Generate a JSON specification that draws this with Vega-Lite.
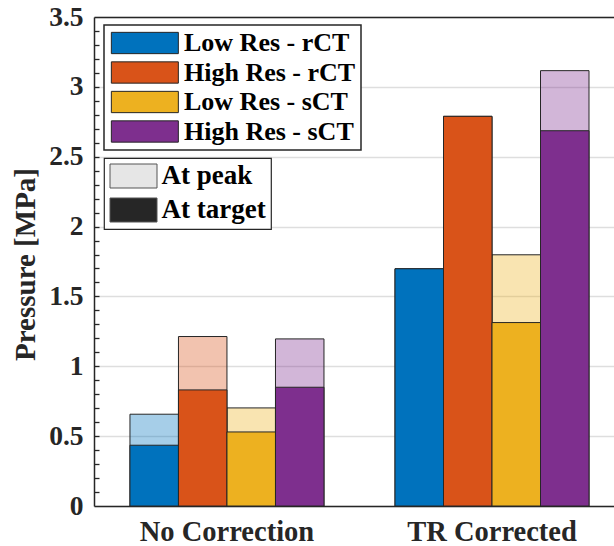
{
  "$schema": "https://vega.github.io/schema/vega-lite/v6.json",
  "width": 520,
  "height": 489,
  "autosize": {"type": "none"},
  "padding": {"left": 94, "top": 17, "right": 0, "bottom": 40},
  "background": "white",
  "config": {"view": {"stroke": null}, "font": "Liberation Serif"},
  "data": {
    "values": [
      {"group": "No Correction", "series": "Low Res - rCT", "measure": "At peak", "value": 0.657},
      {"group": "No Correction", "series": "High Res - rCT", "measure": "At peak", "value": 1.213},
      {"group": "No Correction", "series": "Low Res - sCT", "measure": "At peak", "value": 0.702},
      {"group": "No Correction", "series": "High Res - sCT", "measure": "At peak", "value": 1.196},
      {"group": "TR Corrected", "series": "Low Res - rCT", "measure": "At peak", "value": 1.698},
      {"group": "TR Corrected", "series": "High Res - rCT", "measure": "At peak", "value": 2.789},
      {"group": "TR Corrected", "series": "Low Res - sCT", "measure": "At peak", "value": 1.798},
      {"group": "TR Corrected", "series": "High Res - sCT", "measure": "At peak", "value": 3.116},
      {"group": "No Correction", "series": "Low Res - rCT", "measure": "At target", "value": 0.435},
      {"group": "No Correction", "series": "High Res - rCT", "measure": "At target", "value": 0.831},
      {"group": "No Correction", "series": "Low Res - sCT", "measure": "At target", "value": 0.53},
      {"group": "No Correction", "series": "High Res - sCT", "measure": "At target", "value": 0.85},
      {"group": "TR Corrected", "series": "Low Res - rCT", "measure": "At target", "value": 1.698},
      {"group": "TR Corrected", "series": "High Res - rCT", "measure": "At target", "value": 2.789},
      {"group": "TR Corrected", "series": "Low Res - sCT", "measure": "At target", "value": 1.313},
      {"group": "TR Corrected", "series": "High Res - sCT", "measure": "At target", "value": 2.686}
    ]
  },
  "resolve": {"scale": {"color": "independent"}, "axis": {"x": "independent", "y": "independent"}},
  "layer": [
    {
      "mark": {"type": "bar", "stroke": "#262626", "strokeWidth": 1},
      "encoding": {
        "x": {
          "field": "group", "type": "nominal", "sort": ["No Correction", "TR Corrected"],
          "scale": {"paddingInner": 0.268, "paddingOuter": 0.115, "align": 0.59},
          "axis": {
            "orient": "bottom", "title": null, "labelAngle": 0, "labelFont": "Liberation Serif", "labelFontWeight": "bold",
            "labelFontSize": 28.5, "labelColor": "#262626", "ticks": false, "domainColor": "#262626",
            "domainWidth": 1.5, "labelPadding": 34, "labelBaseline": "alphabetic", "grid": false
          }
        },
        "xOffset": {
          "field": "series", "type": "nominal",
          "sort": ["Low Res - rCT", "High Res - rCT", "Low Res - sCT", "High Res - sCT"],
          "scale": {"paddingInner": 0, "paddingOuter": 0}
        },
        "y": {
          "field": "value", "type": "quantitative", "stack": null,
          "scale": {"domain": [0, 3.5], "nice": false},
          "axis": {
            "orient": "left",
            "title": "Pressure [MPa]",
            "values": [0, 0.5, 1, 1.5, 2, 2.5, 3, 3.5],
            "labelExpr": "'' + (round(datum.value*10)/10)",
            "labelOverlap": false,
            "labelFont": "Liberation Serif", "labelFontWeight": "bold", "labelFontSize": 27.5, "labelColor": "#262626",
            "labelPadding": 11, "ticks": false,
            "domainColor": "#262626", "domainWidth": 1.5,
            "grid": true, "gridColor": "#dedede", "gridWidth": 1.5,
            "titleFont": "Liberation Serif", "titleFontSize": 29, "titleFontWeight": "bold", "titleColor": "#262626",
            "titleX": -60, "titleY": 247, "titleBaseline": "alphabetic", "titleAlign": "center", "titleAngle": 270
          }
        },
        "color": {
          "field": "series", "type": "nominal",
          "sort": ["Low Res - rCT", "High Res - rCT", "Low Res - sCT", "High Res - sCT"],
          "scale": {
            "domain": ["Low Res - rCT", "High Res - rCT", "Low Res - sCT", "High Res - sCT"],
            "range": ["#0072BD", "#D95319", "#EDB120", "#7E2F8E"]
          },
          "legend": {
            "title": null, "orient": "none", "legendX": 10, "legendY": 8,
            "symbolType": "M-1,-1H5.29V1H-1Z", "symbolSize": 454,
            "symbolStrokeColor": "#262626", "symbolStrokeWidth": 1, "symbolOpacity": 1,
            "labelFont": "Liberation Serif", "labelFontWeight": "bold", "labelFontSize": 26, "labelColor": "black",
            "labelOffset": 49, "labelLimit": 400, "rowPadding": 3.5, "padding": 5,
            "strokeColor": "#262626", "fillColor": "white",
            "encode": {"legend": {"update": {"strokeWidth": {"value": 1.5}}}}
          }
        },
        "fillOpacity": {
          "field": "measure", "type": "nominal",
          "scale": {"domain": ["At peak", "At target"], "range": [0.35, 1]},
          "legend": null
        }
      }
    },
    {
      "mark": {"type": "bar", "fillOpacity": 0, "strokeOpacity": 0},
      "encoding": {
        "x": {
          "field": "group", "type": "nominal", "sort": ["No Correction", "TR Corrected"],
          "scale": {"paddingInner": 0.268, "paddingOuter": 0.115, "align": 0.59},
          "axis": {"orient": "top", "title": null, "labels": false, "ticks": false, "grid": false, "domainColor": "#262626", "domainWidth": 1.5}
        },
        "xOffset": {
          "field": "series", "type": "nominal",
          "sort": ["Low Res - rCT", "High Res - rCT", "Low Res - sCT", "High Res - sCT"],
          "scale": {"paddingInner": 0, "paddingOuter": 0}
        },
        "y": {
          "field": "value", "type": "quantitative", "stack": null,
          "scale": {"domain": [0, 3.5], "nice": false},
          "axis": {
            "orient": "left", "title": null, "labels": false, "domain": false, "grid": false,
            "offset": -5, "tickSize": 5, "tickColor": "#262626", "tickWidth": 1.3,
            "values": [0.1, 0.2, 0.3, 0.4, 0.5, 0.6, 0.7, 0.8, 0.9, 1, 1.1, 1.2, 1.3, 1.4, 1.5, 1.6, 1.7, 1.8, 1.9, 2, 2.1, 2.2, 2.3, 2.4, 2.5, 2.6, 2.7, 2.8, 2.9, 3, 3.1, 3.2, 3.3, 3.4]
          }
        },
        "color": {
          "field": "measure", "type": "nominal",
          "scale": {"domain": ["At peak", "At target"], "range": ["#e6e6e6", "#262626"]},
          "legend": {
            "title": null, "orient": "none", "legendX": 10, "legendY": 141,
            "symbolType": "M-1,-1H2.917V1H-1Z", "symbolSize": 576,
            "symbolStrokeColor": "#555555", "symbolStrokeWidth": 1, "symbolOpacity": 1,
            "labelFont": "Liberation Serif", "labelFontWeight": "bold", "labelFontSize": 27, "labelColor": "black",
            "labelOffset": 26, "labelLimit": 400, "rowPadding": 5, "padding": 4.5,
            "strokeColor": "#262626", "fillColor": "white",
            "encode": {
              "legend": {"update": {"strokeWidth": {"value": 1.2}}},
              "symbols": {"update": {"fillOpacity": {"value": 1}, "strokeOpacity": {"value": 1}, "opacity": {"value": 1}}}
            }
          }
        }
      }
    }
  ]
}
